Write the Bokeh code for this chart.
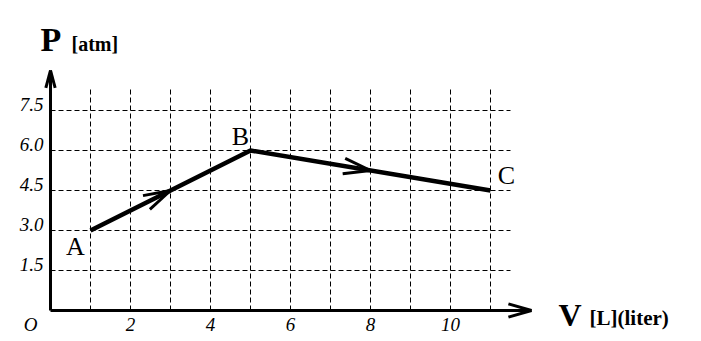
import math
import numpy as np
from bokeh.plotting import figure
from bokeh.models import Range1d
from bokeh.core.properties import value
from bokeh.embed import file_html
from bokeh.resources import INLINE

# ---- data ----
V_points = [1, 5, 11]
P_points = [3.0, 6.0, 4.5]
point_labels = ["A", "B", "C"]

x_ticks = [2, 4, 6, 8, 10]
x_tick_labels = ["2", "4", "6", "8", "10"]
y_ticks = [1.5, 3.0, 4.5, 6.0, 7.5]
y_tick_labels = ["1.5", "3.0", "4.5", "6.0", "7.5"]

grid_v = [1, 2, 3, 4, 5, 6, 7, 8, 9, 10, 11]
grid_p = [1.5, 3.0, 4.5, 6.0, 7.5]

# ---- layout / scale ----
W, H = 701, 341
OX, OY = 50, 310          # pixel position of origin
SX = 40.0                 # px per liter
SY = 40.0 / 1.5           # px per atm

SERIF = value("Liberation Serif")

p = figure(width=W, height=H,
           x_range=Range1d(-OX / SX, (W - OX) / SX),
           y_range=Range1d(-(H - OY) / SY, OY / SY),
           x_axis_location=None, y_axis_location=None,
           output_backend="svg", toolbar_location=None,
           min_border=0, outline_line_color=None)
p.grid.visible = False
p.background_fill_color = "white"
p.border_fill_color = "white"

grid_top = 222 / SY     # vertical grid lines reach a bit above 7.5
grid_right = 11.5

# dashed grid
p.segment(x0=grid_v, y0=0, x1=grid_v, y1=grid_top,
          line_color="black", line_width=1, line_dash="5 3")
p.segment(x0=0, y0=grid_p, x1=grid_right, y1=grid_p,
          line_color="black", line_width=1, line_dash="5 3")

# axes
x_axis_end = 481 / SX
y_axis_end = 240 / SY
p.segment(x0=[0, 0], y0=[0, 0], x1=[x_axis_end, 0], y1=[0, y_axis_end],
          line_color="black", line_width=3)


def wings(xt, yt, xf, yf, length, half_angle):
    dxp = (xf - xt) * SX
    dyp = (yf - yt) * SY
    n = math.hypot(dxp, dyp)
    ux, uy = dxp / n, dyp / n
    x0s, y0s, x1s, y1s = [], [], [], []
    for s in (1, -1):
        a = math.radians(half_angle) * s
        rx = ux * math.cos(a) - uy * math.sin(a)
        ry = ux * math.sin(a) + uy * math.cos(a)
        x0s.append(xt)
        y0s.append(yt)
        x1s.append(xt + rx * length / SX)
        y1s.append(yt + ry * length / SY)
    return x0s, y0s, x1s, y1s


# axis arrowheads
for (xt, yt, xf, yf, L, ang) in [(x_axis_end, 0, 0, 0, 24, 16),
                                 (0, y_axis_end, 0, 0, 18, 15)]:
    a, b, c, d = wings(xt, yt, xf, yf, L, ang)
    p.segment(x0=a, y0=b, x1=c, y1=d, line_color="black", line_width=3)

# process path
p.line(V_points, P_points, line_color="black", line_width=4.5)

# direction arrows at midpoints of each leg
for i in range(len(V_points) - 1):
    xm = (V_points[i] + V_points[i + 1]) / 2
    ym = (P_points[i] + P_points[i + 1]) / 2
    a, b, c, d = wings(xm, ym, V_points[i], P_points[i], 28, 16)
    p.segment(x0=a, y0=b, x1=c, y1=d, line_color="black", line_width=3)

# tick labels
p.text(x=[-7 / SX] * len(y_ticks), y=list(np.array(y_ticks) + 6 / SY),
       text=y_tick_labels, text_align="right", text_baseline="middle",
       text_font=SERIF, text_font_style="italic", text_font_size="19px",
       text_color="black")
p.text(x=x_ticks, y=[-14 / SY] * len(x_ticks), text=x_tick_labels,
       text_align="center", text_baseline="middle",
       text_font=SERIF, text_font_style="italic", text_font_size="19px",
       text_color="black")
p.text(x=[-20 / SX], y=[-14 / SY], text=["O"],
       text_align="center", text_baseline="middle",
       text_font=SERIF, text_font_style="italic", text_font_size="19px",
       text_color="black")

# point labels
label_dx = [-15, -10, 16]
label_dy = [-16, 14, 15]
p.text(x=[v + dx / SX for v, dx in zip(V_points, label_dx)],
       y=[q + dy / SY for q, dy in zip(P_points, label_dy)],
       text=point_labels, text_align="center", text_baseline="middle",
       text_font=SERIF, text_font_size="26px", text_color="black")

# axis titles (positions given as pixel offsets from the origin)
p.text(x=[-10 / SX], y=[(OY - 39) / SY], text=["P"], text_align="left",
       text_baseline="middle", text_font=SERIF, text_font_style="bold",
       text_font_size="34px", text_color="black")
p.text(x=[21 / SX], y=[(OY - 43) / SY], text=["[atm]"], text_align="left",
       text_baseline="middle", text_font=SERIF, text_font_style="bold",
       text_font_size="20px", text_color="black")
p.text(x=[508 / SX], y=[(OY - 314) / SY], text=["V"], text_align="left",
       text_baseline="middle", text_font=SERIF, text_font_style="bold",
       text_font_size="32px", text_color="black")
p.text(x=[539 / SX], y=[(OY - 317) / SY], text=["[L](liter)"], text_align="left",
       text_baseline="middle", text_font=SERIF, text_font_style="bold",
       text_font_size="21px", text_color="black")

open("out.html", "w").write(file_html(p, INLINE))
